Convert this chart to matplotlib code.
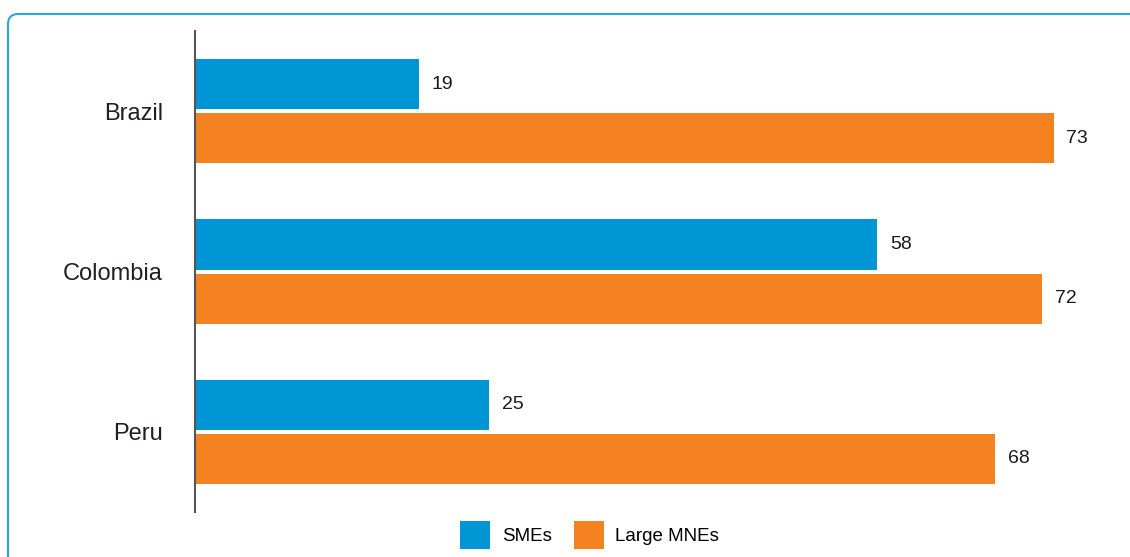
import numpy as np
import matplotlib.pyplot as plt
from matplotlib.patches import FancyBboxPatch
from matplotlib import font_manager

# data
countries = ["Brazil", "Colombia", "Peru"]
smes = [19, 58, 25]
large_mnes = [73, 72, 68]
series_names = ["SMEs", "Large MNEs"]

blue = "#0096d6"
orange = "#f58220"

# narrow sans if available, else plain Liberation Sans
names = {f.name for f in font_manager.fontManager.ttflist}
fam = "Liberation Sans Narrow" if "Liberation Sans Narrow" in names else "Liberation Sans"
plt.rcParams["font.family"] = [fam, "DejaVu Sans"]

fig = plt.figure(figsize=(11.3, 5.57), dpi=100)
ax = fig.add_axes([0.1726, 0.0808, 0.8017, 0.8635])

y = np.arange(len(countries))
h = 0.3125
off = h / 2 + 0.0125
b1 = ax.barh(y - off, smes, height=h, color=blue, label=series_names[0])
b2 = ax.barh(y + off, large_mnes, height=h, color=orange, label=series_names[1])

for bars, vals in [(b1, smes), (b2, large_mnes)]:
    for bar, v in zip(bars, vals):
        ax.annotate(str(v), (bar.get_width(), bar.get_y() + bar.get_height() / 2),
                    xytext=(9, 0), textcoords="offset points",
                    va="center", ha="left", fontsize=14, color="#1a1a1a")

ax.set_xlim(0, 77)
ax.set_ylim(2.5, -0.5)
ax.set_yticks(y)
ax.set_yticklabels(countries, fontsize=17, color="#231f20")
ax.tick_params(axis="y", length=0, pad=23)
ax.set_xticks([])
for s in ["top", "right", "bottom"]:
    ax.spines[s].set_visible(False)
ax.spines["left"].set_color("#555555")
ax.spines["left"].set_linewidth(1.5)

fig.legend(handles=[b1, b2], loc="center", bbox_to_anchor=(0.522, 0.04),
           ncol=2, frameon=False, fontsize=13.5, handlelength=1.6, handleheight=1.9,
           handletextpad=0.6, columnspacing=1.2)

# rounded frame open on right and bottom
frame = FancyBboxPatch((8 / 1130, -0.2), 1.2, 1.2 - 14 / 557,
                       boxstyle="round,pad=0,rounding_size=0.009",
                       transform=fig.transFigure, fill=False,
                       edgecolor="#29a8e0", linewidth=1.5, mutation_aspect=1130 / 557)
fig.patches.append(frame)

fig.savefig("out.png", dpi=100)
